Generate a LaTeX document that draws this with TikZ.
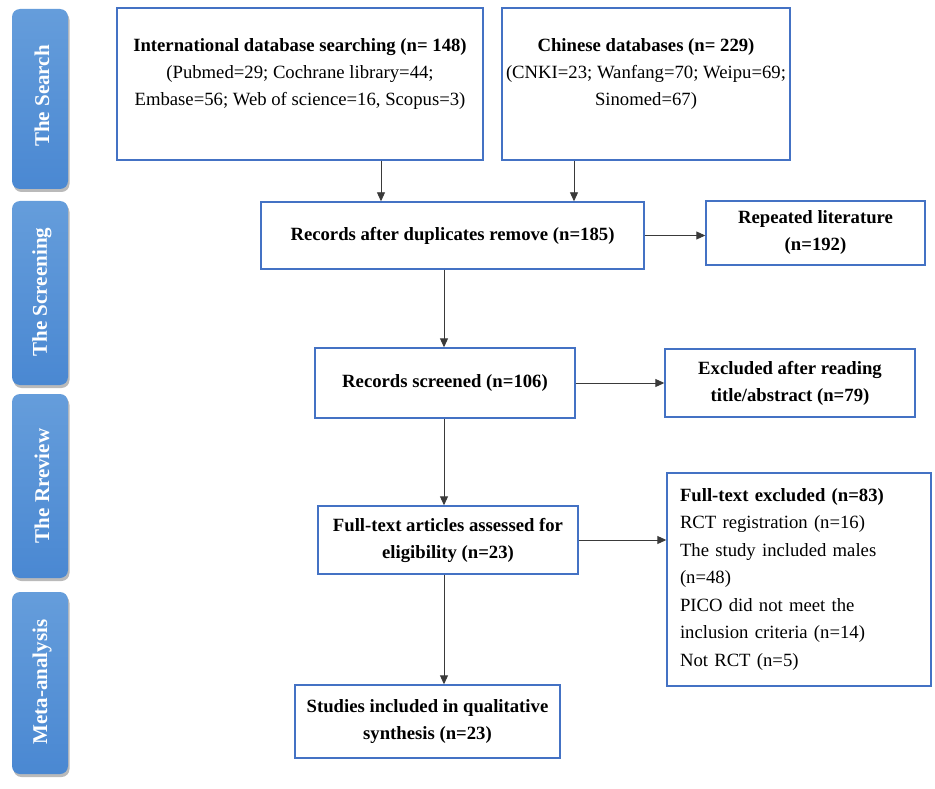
\documentclass[tikz,border=0pt]{standalone}
\usepackage{fontspec}
\setmainfont{Liberation Serif}
\usetikzlibrary{arrows.meta,shadows}
\definecolor{boxblue}{HTML}{4472C4}
\definecolor{bartop}{HTML}{659DDB}
\definecolor{barbot}{HTML}{4A88D2}
\definecolor{arrgray}{HTML}{3A3A3A}
\begin{document}
\begin{tikzpicture}[x=1pt,y=-1pt,
  box/.style={draw=boxblue,line width=1.4pt,fill=white,inner sep=0pt,align=center,
    font=\fontsize{18.7}{27}\selectfont\bfseries},
  txt/.style={inner sep=0pt,align=center,font=\fontsize{18.7}{27}\selectfont},
  bar/.style={rounded corners=8pt,top color=bartop,bottom color=barbot,draw=none,
    minimum width=56pt,inner sep=0pt,
    drop shadow={shadow xshift=1.5pt,shadow yshift=-3pt,opacity=0.45,fill=black!60}},
  bartxt/.style={rotate=90,text=white,font=\fontsize{21}{24}\selectfont\bfseries,inner sep=0pt},
  arr/.style={draw=arrgray,line width=0.9pt,-{Triangle[length=9pt,width=8pt]}}]
\useasboundingbox[fill=white] (0,0) rectangle (935,789);

% side bars
\node[bar,minimum height=180pt] (b1) at (40,99) {};
\node[bartxt] (b1t) at (42,96) {The Search};
\node[bar,minimum height=184pt] (b2) at (40,293) {};
\node[bartxt] (b2t) at (42,292) {The Screening};
\node[bar,minimum height=184pt] (b3) at (40,486) {};
\node[bartxt] (b3t) at (42,486) {The Rreview};
\node[bar,minimum height=182pt] (b4) at (40,683) {};
\node[bartxt] (b4t) at (42,682) {Meta-analysis};

% boxes
\node[box,minimum width=366pt,minimum height=152pt] (intl) at (300,84) {};
\node[txt] (intlt) at (300,74) {\textbf{International database searching (n= 148)}\\(Pubmed=29; Cochrane library=44;\\Embase=56; Web of science=16, Scopus=3)};

\node[box,minimum width=288pt,minimum height=152pt] (chn) at (646,84) {};
\node[txt] (chnt) at (646,74) {\textbf{Chinese databases (n= 229)}\\(CNKI=23; Wanfang=70; Weipu=69;\\Sinomed=67)};

\node[box,minimum width=383pt,minimum height=67pt] (rec) at (452.5,235.5) {Records after duplicates remove (n=185)};
\node[box,minimum width=219pt,minimum height=64pt] (rep) at (815.5,233) {Repeated literature\\(n=192)};

\node[box,minimum width=260pt,minimum height=70pt] (scr) at (445,383) {Records screened (n=106)};
\node[box,minimum width=250pt,minimum height=68pt] (exc1) at (790,383) {Excluded after reading\\title/abstract (n=79)};

\node[box,minimum width=260pt,minimum height=68pt] (full) at (448,540) {Full-text articles assessed for\\eligibility (n=23)};
\node[box,minimum width=264pt,minimum height=213pt,align=left,text width=238pt,inner xsep=13pt,
  font=\fontsize{18.7}{27.5}\selectfont] (exc2) at (799,579.5)
  {\textbf{Full-text excluded (n=83)}\\RCT registration (n=16)\\The study included males\\(n=48)\\PICO did not meet the\\inclusion criteria (n=14)\\Not RCT (n=5)};

\node[box,minimum width=265pt,minimum height=73pt] (inc) at (427.5,721.5) {Studies included in qualitative\\synthesis (n=23)};

% connector columns
\coordinate (ax1) at (381,0);
\coordinate (ax2) at (574,0);
\coordinate (vx) at (444,0);

\draw[arr] (intl.south -| ax1) -- (rec.north -| ax1);
\draw[arr] (chn.south -| ax2) -- (rec.north -| ax2);
\draw[arr] (rec.east) -- (rec.east -| rep.west);
\draw[arr] (rec.south -| vx) -- (scr.north -| vx);
\draw[arr] (scr.east) -- (scr.east -| exc1.west);
\draw[arr] (scr.south -| vx) -- (full.north -| vx);
\draw[arr] (full.east) -- (full.east -| exc2.west);
\draw[arr] (full.south -| vx) -- (inc.north -| vx);
\end{tikzpicture}
\end{document}
